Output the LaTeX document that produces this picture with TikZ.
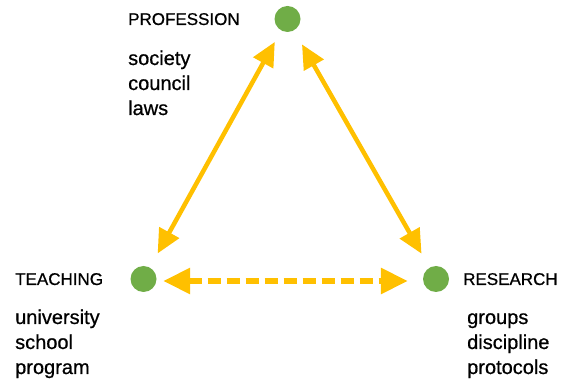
\documentclass[tikz,border=0pt]{standalone}
\usepackage{fontspec}
\setmainfont{Liberation Sans}[BoldFont=Liberation Sans,BoldFeatures={FakeBold=0.7}]
\usetikzlibrary{arrows.meta}
\definecolor{dotgreen}{RGB}{112,173,71}
\definecolor{gold}{RGB}{255,192,0}
\tikzset{
  dot/.style={circle,fill=dotgreen,minimum size=26pt,inner sep=0pt},
  capslabel/.style={anchor=base west,inner sep=0pt,font=\bfseries\fontsize{17}{20}\selectfont},
  listlabel/.style={anchor=base west,inner sep=0pt,font=\bfseries\fontsize{20}{25}\selectfont},
  link/.style={draw=gold,line width=4.5pt,{Triangle[length=24pt,width=22pt]}-{Triangle[length=24pt,width=22pt]}},
  dlink/.style={draw=gold,line width=6pt,dash pattern=on 13pt off 6pt,{Triangle[length=27pt,width=25pt]}-{Triangle[length=27pt,width=25pt]}}
}
\begin{document}
\begin{tikzpicture}[x=1pt,y=1pt]
\useasboundingbox (0,0) rectangle (564,385);
\node[dot] (P) at (287.5,366) {};
\node[dot] (T) at (143.5,106) {};
\node[dot] (R) at (436,106) {};
\node[capslabel] (Plab) at (128,360) {PROFESSION};
\node[capslabel] (Tlab) at (15,100) {TEACHING};
\node[capslabel] (Rlab) at (463,100) {RESEARCH};
\node[listlabel] (Plist) at (128,320) {\begin{tabular}[t]{@{}l@{}}society\\council\\laws\end{tabular}};
\node[listlabel] (Tlist) at (15,61) {\begin{tabular}[t]{@{}l@{}}university\\school\\program\end{tabular}};
\node[listlabel] (Rlist) at (467,61) {\begin{tabular}[t]{@{}l@{}}groups\\discipline\\protocols\end{tabular}};
\draw[link,shorten <=13pt,shorten >=16pt] (P) -- (T);
\draw[link,shorten <=16pt,shorten >=16pt] (P) -- (R);
\draw[dlink,shorten <=6.5pt,shorten >=15pt] ([yshift=-2pt]T.east) -- ([yshift=-2pt]R.west);
\end{tikzpicture}
\end{document}
